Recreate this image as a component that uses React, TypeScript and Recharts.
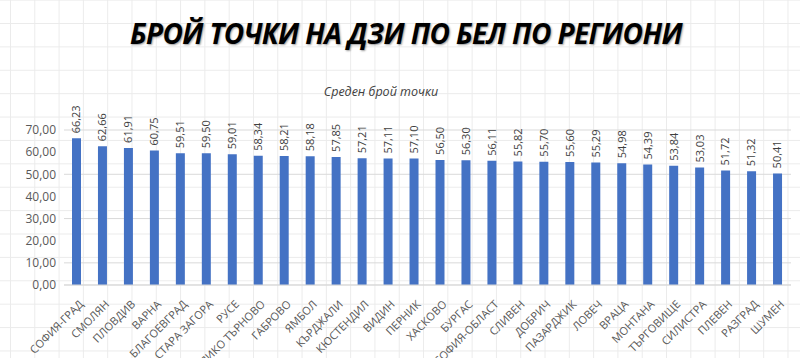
import { BarChart, Bar, XAxis, YAxis, CartesianGrid, LabelList } from "recharts";

const regions = [
  "СОФИЯ-ГРАД",
  "СМОЛЯН",
  "ПЛОВДИВ",
  "ВАРНА",
  "БЛАГОЕВГРАД",
  "СТАРА ЗАГОРА",
  "РУСЕ",
  "ВЕЛИКО ТЪРНОВО",
  "ГАБРОВО",
  "ЯМБОЛ",
  "КЪРДЖАЛИ",
  "КЮСТЕНДИЛ",
  "ВИДИН",
  "ПЕРНИК",
  "ХАСКОВО",
  "БУРГАС",
  "СОФИЯ-ОБЛАСТ",
  "СЛИВЕН",
  "ДОБРИЧ",
  "ПАЗАРДЖИК",
  "ЛОВЕЧ",
  "ВРАЦА",
  "МОНТАНА",
  "ТЪРГОВИЩЕ",
  "СИЛИСТРА",
  "ПЛЕВЕН",
  "РАЗГРАД",
  "ШУМЕН",
];

const avgPoints = [
  66.23, 62.66, 61.91, 60.75, 59.51, 59.5, 59.01, 58.34, 58.21, 58.18, 57.85,
  57.21, 57.11, 57.1, 56.5, 56.3, 56.11, 55.82, 55.7, 55.6, 55.29, 54.98, 54.39,
  53.84, 53.03, 51.72, 51.32, 50.41,
];

const yTicks = [0, 10, 20, 30, 40, 50, 60, 70];

const data = regions.map((name, i) => ({ name, value: avgPoints[i] }));

const fmt = (v: number) => v.toFixed(2).replace(".", ",");

const font = "'Open Sans', sans-serif";

function RegionTick(props: any) {
  const { x, y, payload } = props;
  return (
    <text
      transform={`translate(${x + 7},${y + 12}) rotate(-45)`}
      textAnchor="end"
      fontSize={11}
      fontFamily={font}
      fill="#595959"
    >
      {payload.value}
    </text>
  );
}

function ValueLabel(props: any) {
  const { x, y, width, value } = props;
  const cx = x + width / 2;
  const cy = y - 5;
  return (
    <text
      transform={`translate(${cx},${cy}) rotate(-90)`}
      textAnchor="start"
      dy="0.35em"
      fontSize={11}
      fontFamily={font}
      fill="#404040"
    >
      {fmt(value)}
    </text>
  );
}

export default function App() {
  return (
    <div
      style={{
        position: "absolute",
        left: 0,
        top: 0,
        width: 800,
        height: 358,
        backgroundColor: "#ffffff",
        backgroundImage:
          "linear-gradient(to right, #ebebeb 1px, transparent 1px), linear-gradient(to bottom, #ebebeb 1px, transparent 1px)",
        backgroundSize: "24.3px 23.4px",
        backgroundPosition: "10px 23px",
        overflow: "hidden",
      }}
    >
      <div
        style={{
          position: "absolute",
          top: 14,
          left: 0,
          width: 800,
          textAlign: "center",
          fontFamily: font,
          fontWeight: 700,
          fontStyle: "italic",
          fontSize: 28,
          letterSpacing: -0.6,
          color: "#000",
          textShadow: "1px 1px 2px rgba(0,0,0,0.4)",
          paddingLeft: 12,
          boxSizing: "border-box",
        }}
      >
        БРОЙ ТОЧКИ НА ДЗИ ПО БЕЛ ПО РЕГИОНИ
      </div>
      <div
        style={{
          position: "absolute",
          top: 83,
          left: 0,
          width: 800,
          textAlign: "center",
          fontFamily: font,
          fontStyle: "italic",
          fontSize: 12.5,
          color: "#404040",
        }}
      >
        <span style={{ position: "relative", left: -19 }}>Среден брой точки</span>
      </div>
      <div style={{ position: "absolute", left: 0, top: 0 }}>
        <BarChart
          width={800}
          height={358}
          data={data}
          margin={{ top: 130, right: 9, bottom: 0, left: 0 }}
        >
          <CartesianGrid vertical={false} stroke="#d9d9d9" />
          <XAxis
            dataKey="name"
            interval={0}
            height={73}
            tick={<RegionTick />}
            tickLine={false}
            axisLine={{ stroke: "#d9d9d9" }}
          />
          <YAxis
            width={64}
            domain={[0, 70]}
            ticks={yTicks}
            tickFormatter={fmt}
            tick={{ fill: "#595959", fontSize: 12, fontFamily: font }}
            tickLine={false}
            axisLine={false}
          />
          <Bar dataKey="value" fill="#4472c4" barSize={9} isAnimationActive={false}>
            <LabelList dataKey="value" content={<ValueLabel />} />
          </Bar>
        </BarChart>
      </div>
    </div>
  );
}
